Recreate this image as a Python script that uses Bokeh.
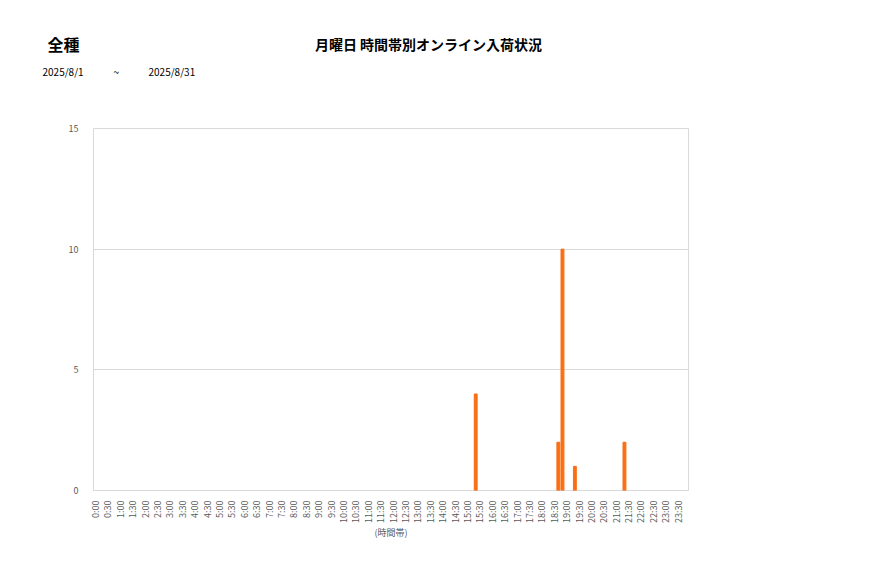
from bokeh.plotting import figure
from bokeh.layouts import column
from bokeh.models import FixedTicker, Range1d
from bokeh.core.properties import value
from bokeh.embed import file_html
from bokeh.resources import INLINE

# ---- data ----
slots = [f"{h}:{m:02d}" for h in range(24) for m in (0, 10, 20, 30, 40, 50)]
tick_labels = [f"{h}:{m:02d}" for h in range(24) for m in (0, 30)]
bar_slots = ["15:20", "18:40", "18:50", "19:20", "21:20"]
bar_values = [4, 2, 10, 1, 2]
y_ticks = [0, 5, 10, 15]
title_text = "月曜日 時間帯別オンライン入荷状況"
category_text = "全種"
date_from = "2025/8/1"
date_to = "2025/8/31"
x_axis_title = "(時間帯)"

FONT = "Noto Sans CJK JP"
W = 860
HH = 100          # header height
H = 460           # chart height
FL, FT, FR, FB = 93, 128, 688, 490  # frame edges in page pixels

# ---- header (titles) ----
hdr = figure(width=W, height=HH, output_backend="svg", toolbar_location=None,
             x_range=Range1d(0, W), y_range=Range1d(HH, 0),
             x_axis_type=None, y_axis_type=None, min_border=0)
hdr.outline_line_color = None
hdr.frame_align = False

def htext(text, x, y, size, bold=False, align="left"):
    hdr.text(x=[x], y=[y], text=[text], text_font=value(FONT), text_font_size=size,
             text_font_style="bold" if bold else "normal",
             text_align=align, text_baseline="middle", text_color="#000000")

htext(category_text, 47, 43, "16px", bold=True)
htext(title_text, 428, 43, "14px", bold=True, align="center")
htext(date_from, 42, 71, "10px")
htext("~", 113, 71, "10px")
htext(date_to, 148, 71, "10px")

# ---- chart ----
p = figure(width=W, height=H, output_backend="svg", toolbar_location=None,
           x_range=Range1d(-0.5, len(slots) - 0.5), y_range=Range1d(0, 15),
           min_border_left=FL, min_border_top=FT - HH, min_border_right=W - FR,
           min_border_bottom=HH + H - FB)
p.frame_align = False

xs = [slots.index(s) for s in bar_slots]
p.vbar(x=xs, top=bar_values, width=0.7, color="#FA6E14")

p.outline_line_color = "#D9D9D9"
p.xgrid.visible = False
p.ygrid.grid_line_color = "#D9D9D9"
p.ygrid.ticker = FixedTicker(ticks=y_ticks)

p.yaxis.ticker = FixedTicker(ticks=y_ticks)
p.yaxis.axis_line_color = None
p.yaxis.major_tick_line_color = None
p.yaxis.minor_tick_line_color = None
p.yaxis.major_label_standoff = 9
p.yaxis.major_label_text_font = FONT
p.yaxis.major_label_text_font_size = "9px"
p.yaxis.major_label_text_color = "#595959"

tick_pos = [slots.index(t) for t in tick_labels]
p.xaxis.ticker = FixedTicker(ticks=tick_pos)
p.xaxis.major_label_overrides = {pos: lab for pos, lab in zip(tick_pos, tick_labels)}
p.xaxis.major_label_orientation = 1.5707963
p.xaxis.axis_line_color = None
p.xaxis.major_tick_line_color = None
p.xaxis.minor_tick_line_color = None
p.xaxis.major_label_standoff = 4
p.xaxis.major_label_text_font = FONT
p.xaxis.major_label_text_font_size = "9px"
p.xaxis.major_label_text_color = "#595959"
p.xaxis.axis_label = x_axis_title
p.xaxis.axis_label_text_font = FONT
p.xaxis.axis_label_text_font_style = "normal"
p.xaxis.axis_label_text_font_size = "9px"
p.xaxis.axis_label_text_color = "#595959"
p.xaxis.axis_label_standoff = 0

layout = column(hdr, p, spacing=0)
open("out.html", "w").write(file_html(layout, INLINE))
